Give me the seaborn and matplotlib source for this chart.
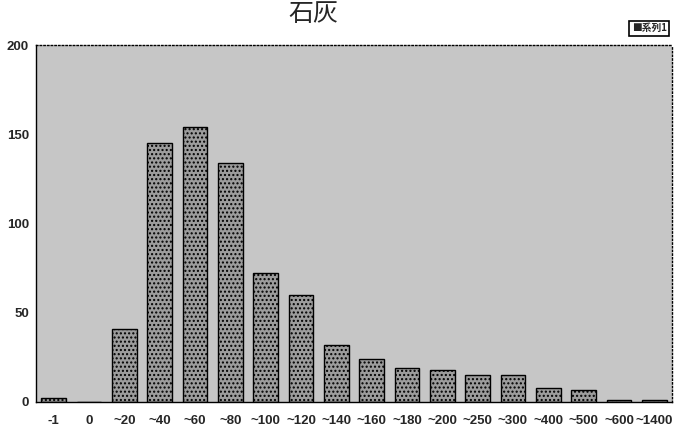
import numpy as np
import pandas as pd
import matplotlib
matplotlib.use('Agg')
import matplotlib.pyplot as plt
import seaborn as sns

sns.set_style('white')
plt.rcParams['font.family'] = ['Liberation Sans', 'Noto Sans CJK JP']

categories = ['-1', '0', '~20', '~40', '~60', '~80', '~100', '~120', '~140',
              '~160', '~180', '~200', '~250', '~300', '~400', '~500', '~600', '~1400']
counts = [2, 0, 41, 145, 154, 134, 72, 60, 32, 24, 19, 18, 15, 15, 8, 7, 1, 1]
y_ticks = [0, 50, 100, 150, 200]

df = pd.DataFrame({'cat': categories, 'n': counts})

fig = plt.figure(figsize=(6.74, 4.33), dpi=100)
ax = fig.add_axes([36 / 674, 1 - 402 / 433, 636 / 674, 357 / 433])
ax.set_facecolor('#c6c6c6')

sns.barplot(data=df, x='cat', y='n', order=categories, color='#9c9c9c',
            edgecolor='black', linewidth=1.0, width=0.7, saturation=1, ax=ax)
for p in ax.patches:
    p.set_hatch('....')

ax.set_ylim(0, 200)
ax.set_xlim(-0.5, len(categories) - 0.5)
ax.set_yticks(y_ticks)
ax.set_yticklabels([str(v) for v in y_ticks], fontsize=9.5, fontweight='bold')
ax.set_xticks(range(len(categories)))
ax.set_xticklabels(categories, fontsize=9.5, fontweight='bold',
                   family=['Liberation Sans Narrow', 'Liberation Sans'])
ax.tick_params(axis='y', length=3, direction='in', pad=5)
ax.tick_params(axis='x', length=0, pad=9)
ax.set_xlabel('')
ax.set_ylabel('')
for s in ax.spines.values():
    s.set_color('black')
    s.set_linewidth(1.0)
ax.spines['top'].set_linestyle(':')
ax.spines['right'].set_linestyle(':')

# title near the top edge
fig.text(0.465, 0.998, '石灰', fontsize=18, ha='center', va='top',
         family=['Noto Sans CJK JP', 'DejaVu Sans'])

# legend box
fig.text(0.963, 0.935, '■系列1', fontsize=7, fontweight='bold', ha='center', va='center',
         family=['Noto Sans CJK JP', 'DejaVu Sans'],
         bbox=dict(boxstyle='square,pad=0.25', facecolor='white', edgecolor='black', linewidth=1.2))

fig.savefig('out.png', dpi=100)
